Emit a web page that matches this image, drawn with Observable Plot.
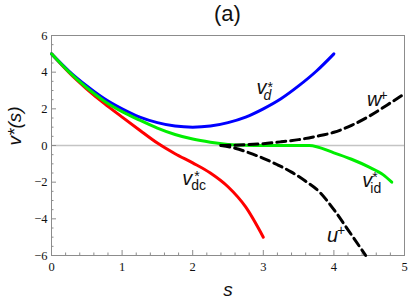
<!DOCTYPE html>
<html><head><meta charset="utf-8">
<script src="https://cdn.jsdelivr.net/npm/d3@7"></script>
<script src="https://cdn.jsdelivr.net/npm/@observablehq/plot@0.6"></script>
<style>
body{margin:0;background:#fff;}
#title{box-sizing:border-box;width:409px;height:24px;line-height:27px;font-family:"Liberation Sans",Arial,sans-serif;font-size:22px;text-align:center;padding-left:51px;padding-right:5px;color:#111;}
#chart svg{display:block;}
#chart g[aria-label$="tick label"] text{font-family:"Liberation Serif","Times New Roman",serif;}
</style></head><body>
<div id="title">(a)</div>
<div id="chart"></div>
<script>
// ---- data ----
const sBlue = [0,0.25,0.5,0.75,1,1.25,1.5,1.75,2,2.25,2.5,2.75,3,3.25,3.5,3.75,4];
const vBlue = [5,4.05,3.25,2.55,2.0,1.55,1.25,1.06,1.0,1.06,1.25,1.55,2.0,2.55,3.25,4.05,5];

const sRed = [0,0.25,0.5,0.75,1,1.25,1.5,1.75,2,2.25,2.5,2.75,3];
const vRed = [5,3.97,3.08,2.28,1.55,0.83,0.13,-0.45,-0.95,-1.5,-2.25,-3.35,-5];

const sGreen = [0,0.25,0.5,0.75,1,1.25,1.5,1.75,2,2.25,2.5,2.75,3,3.3,3.65,4,4.25,4.5,4.7,4.82];
const vGreen = [5,4.0,3.15,2.42,1.85,1.38,0.95,0.6,0.35,0.18,0.06,0.01,0,0,0,-0.4,-0.75,-1.18,-1.6,-2.0];

const sW = [2.4,2.75,3,3.25,3.5,3.75,4,4.25,4.5,4.75,5];
const vW = [0,0.04,0.1,0.2,0.32,0.5,0.72,1.1,1.6,2.2,2.82];

const sU = [2.4,2.6,2.8,3.0,3.2,3.4,3.6,3.8,4.0,4.2,4.45];
const vU = [0,-0.15,-0.4,-0.7,-1.05,-1.45,-1.95,-2.55,-3.5,-4.6,-6.0];

const xMajor = [0,1,2,3,4,5];
const xMinor = [0.2,0.4,0.6,0.8,1.2,1.4,1.6,1.8,2.2,2.4,2.6,2.8,3.2,3.4,3.6,3.8,4.2,4.4,4.6,4.8];
const yMajor = [-6,-4,-2,0,2,4,6];
const yMinor = [-5.5,-5,-4.5,-3.5,-3,-2.5,-1.5,-1,-0.5,0.5,1,1.5,2.5,3,3.5,4.5,5,5.5];

// label anchors (s, v) and texts
const labelBase = ["v","w","v","v","u"];
const labelS = [2.904, 4.47, 4.403, 1.853, 3.904];
const labelV = [2.83, 2.18, -2.24, -2.18, -5.27];

// ---- build ----
const rows = (s, v) => s.map((d, i) => ({s: d, v: v[i]}));
const sans = '"Liberation Sans", Arial, sans-serif';
const serif = '"Liberation Serif", "Times New Roman", serif';
const axisGray = "#8c8c8c";

function piece(i, text, opts) {
  return Plot.text([{s: labelS[i], v: labelV[i], t: text}], {
    x: "s", y: "v", text: "t", textAnchor: "start", lineAnchor: "bottom",
    fontFamily: sans, fill: "#111", ...opts
  });
}
const base = {fontSize: 20, fontStyle: "italic"};
const small = {fontSize: 14};

const plot = Plot.plot({
  width: 409, height: 281,
  marginLeft: 51, marginRight: 5, marginTop: 11, marginBottom: 50,
  x: {domain: [0, 5]},
  y: {domain: [-6, 6]},
  style: {background: "#fff", fontFamily: serif},
  marks: [
    Plot.ruleY([0], {stroke: "#c4c4c4", strokeWidth: 1.5}),
    Plot.frame({stroke: axisGray}),
    Plot.axisX(xMajor, {tickSize: -5, stroke: axisGray, tickFormat: () => "", label: null}),
    Plot.axisX(xMinor, {tickSize: -2.5, stroke: axisGray, tickFormat: () => "", label: null}),
    Plot.axisY(yMajor, {tickSize: -5, stroke: axisGray, tickFormat: () => "", label: null}),
    Plot.axisY(yMinor, {tickSize: -2.5, stroke: axisGray, tickFormat: () => "", label: null}),
    Plot.axisX(xMajor, {tickSize: 0, tickPadding: 7, fontFamily: serif, fontSize: 12.5, fill: "#111", label: null, tickFormat: d => String(d)}),
    Plot.axisY(yMajor, {tickSize: 0, tickPadding: 4, fontFamily: serif, fontSize: 12.5, fill: "#111", label: null, tickFormat: d => d < 0 ? "\u2212" + Math.abs(d) : String(d)}),
    Plot.text(["s"], {frameAnchor: "bottom", dy: 40, fontFamily: sans, fontStyle: "italic", fontSize: 19, fill: "#111"}),
    Plot.text(["v*(s)"], {frameAnchor: "left", dx: -37, rotate: -90, fontFamily: sans, fontStyle: "italic", fontSize: 19, fill: "#111"}),
    Plot.line(rows(sRed, vRed), {x: "s", y: "v", stroke: "#ff0000", strokeWidth: 3, curve: "monotone-x"}),
    Plot.line(rows(sBlue, vBlue), {x: "s", y: "v", stroke: "#0000ff", strokeWidth: 3, curve: "monotone-x"}),
    Plot.line(rows(sGreen, vGreen), {x: "s", y: "v", stroke: "#00ee00", strokeWidth: 3, curve: "monotone-x"}),
    Plot.line(rows(sW, vW), {x: "s", y: "v", stroke: "#000", strokeWidth: 3, strokeDasharray: "9,5", curve: "monotone-x"}),
    Plot.line(rows(sU, vU), {x: "s", y: "v", stroke: "#000", strokeWidth: 3, strokeDasharray: "9,5", curve: "monotone-x"}),
    // v_d*
    piece(0, labelBase[0], base),
    piece(0, "d", {...small, fontStyle: "italic", dx: 7, dy: 6}),
    piece(0, "*", {...small, dx: 11, dy: -2}),
    // w+
    piece(1, labelBase[1], base),
    piece(1, "+", {...small, dx: 12.5, dy: -6}),
    // v_id*
    piece(2, labelBase[2], base),
    piece(2, "id", {...small, dx: 8, dy: 6}),
    piece(2, "*", {...small, dx: 10, dy: -5}),
    // v_dc*
    piece(3, labelBase[3], base),
    piece(3, "dc", {...small, dx: 9, dy: 4.5}),
    piece(3, "*", {...small, dx: 12, dy: -4}),
    // u+
    piece(4, labelBase[4], base),
    piece(4, "+", {...small, dx: 10, dy: -6.7})
  ]
});
document.getElementById("chart").appendChild(plot);
</script></body></html>
